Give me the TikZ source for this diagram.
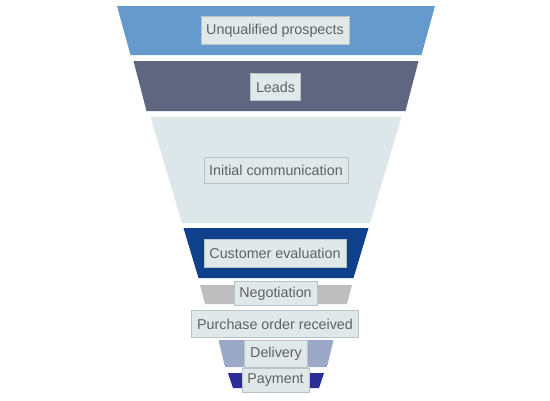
\documentclass[tikz,border=0pt]{standalone}
\usepackage{fontspec}
\setmainfont{Liberation Sans}

\definecolor{stageone}{RGB}{102,153,204}
\definecolor{stagetwo}{RGB}{94,102,128}
\definecolor{stagethree}{RGB}{221,230,232}
\definecolor{stagefour}{RGB}{14,64,140}
\definecolor{stagefive}{RGB}{190,190,190}
\definecolor{stageseven}{RGB}{155,168,200}
\definecolor{stageeight}{RGB}{42,46,150}
\definecolor{labelfill}{RGB}{225,232,234}
\definecolor{labelline}{RGB}{184,196,200}
\definecolor{labeltext}{RGB}{97,97,97}

\begin{document}
\begin{tikzpicture}[x=1pt,y=-1pt,
    stagelabel/.style={draw=labelline, fill=labelfill, text=labeltext,
        font=\fontsize{14.3}{17}\selectfont, inner xsep=5.5pt, inner ysep=0pt,
        minimum height=26pt}]
    \useasboundingbox (0,0) rectangle (550,400);

    % Trapezis de l'embut (centre x = 276)
    \fill[stageone]   (117,6)   -- (435,6)   -- (421.5,55)  -- (130.5,55)  -- cycle;
    \fill[stagetwo]   (133.5,61) -- (418.5,61) -- (405.5,111) -- (146.5,111) -- cycle;
    \fill[stagethree] (150.5,117) -- (401.5,117) -- (370,223) -- (182,223) -- cycle;
    \fill[stagefour]  (183.5,228) -- (368.5,228) -- (353.5,278) -- (198.5,278) -- cycle;
    \fill[stagefive]  (200,285) -- (352,285) -- (347,304) -- (205,304) -- cycle;
    \fill[stageseven] (218.5,340) -- (333.5,340) -- (327,367) -- (225,367) -- cycle;
    \fill[stageeight] (228,373) -- (324,373) -- (319,388) -- (233,388) -- cycle;

    % Etiquetes
    \node[stagelabel, minimum height=28pt] (prospects) at (275,30.5)  {Unqualified prospects};
    \node[stagelabel, minimum height=27pt] (leads)     at (275.5,87) {Leads};
    \node[stagelabel] (initial)     at (276,170.5)   {Initial communication};
    \node[stagelabel, minimum height=28pt] (evaluation) at (275,253.5) {Customer evaluation};
    \node[stagelabel, minimum height=24pt] (negotiation) at (275.5,293.5) {Negotiation};
    \node[stagelabel, minimum height=27pt] (purchase)  at (275,324) {Purchase order received};
    \node[stagelabel, minimum height=27pt] (delivery)  at (276,354) {Delivery};
    \node[stagelabel, minimum height=24pt] (payment)   at (275.5,380.5) {Payment};
\end{tikzpicture}
\end{document}
